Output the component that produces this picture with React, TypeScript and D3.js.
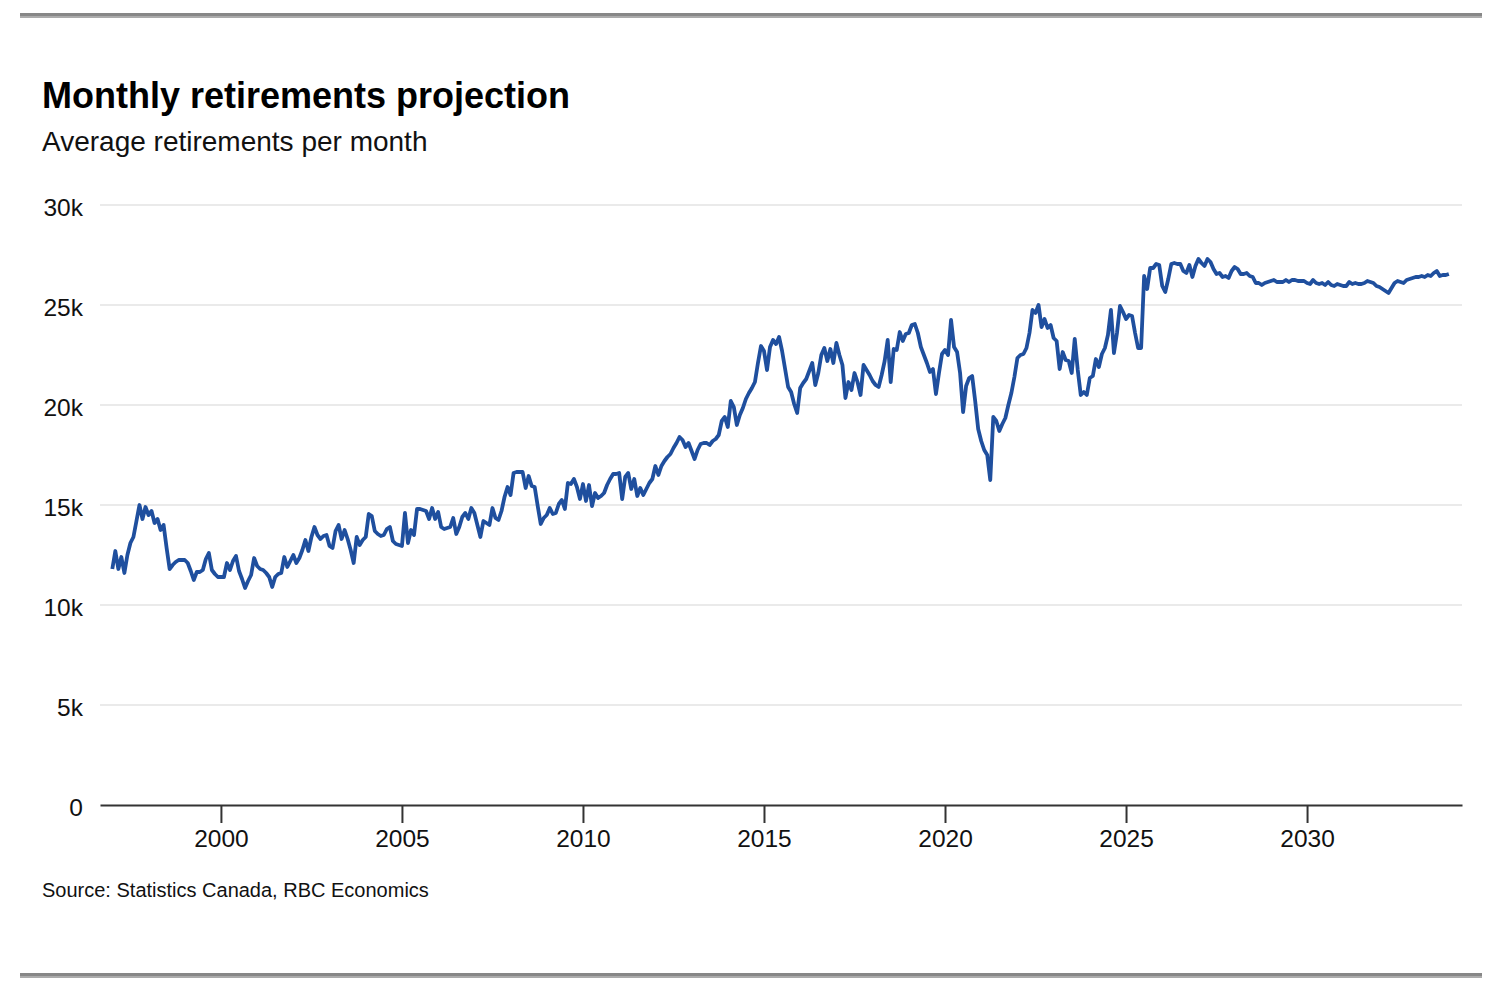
import React, { useEffect, useRef } from 'react'
import * as d3 from 'd3'

// monthly retirements, thousands, starting Jan 1997
const startYear = 1997

const retirements1997to2004 = [
    11.8, 12.7, 11.8, 12.4, 11.6, 12.5, 13.1, 13.4, 14.2, 15.0, 14.3, 14.9,
    14.5, 14.7, 14.1, 14.3, 13.75, 14.0, 12.85, 11.8, 12.0, 12.15, 12.25, 12.25,
    12.25, 12.1, 11.7, 11.25, 11.65, 11.65, 11.75, 12.3, 12.6, 11.75, 11.55, 11.4,
    11.4, 11.4, 12.1, 11.75, 12.2, 12.45, 11.7, 11.3, 10.85, 11.2, 11.5, 12.35,
    11.95, 11.8, 11.75, 11.6, 11.4, 10.9, 11.4, 11.55, 11.6, 12.4, 11.9, 12.2,
    12.5, 12.1, 12.35, 12.75, 13.25, 12.7, 13.4, 13.9, 13.5, 13.3, 13.45, 13.5,
    12.95, 12.85, 13.7, 14.0, 13.3, 13.75, 13.3, 12.75, 12.1, 13.4, 13.0, 13.25,
    13.4, 14.55, 14.45, 13.7, 13.55, 13.45, 13.5, 13.8, 13.9, 13.2, 13.05, 13.0,
]

const retirements2005to2014 = [
    12.95, 14.6, 13.1, 13.75, 13.5, 14.8, 14.8, 14.75, 14.7, 14.3, 14.85, 14.3,
    14.65, 13.9, 13.8, 13.85, 13.9, 14.35, 13.55, 13.9, 14.4, 14.6, 14.3, 14.85,
    14.6, 14.0, 13.4, 14.2, 14.1, 14.0, 14.85, 14.35, 14.25, 14.7, 15.4, 15.9,
    15.5, 16.6, 16.65, 16.65, 16.65, 15.85, 16.45, 15.95, 15.9, 14.95, 14.05, 14.35,
    14.5, 14.85, 14.55, 14.6, 15.05, 15.25, 14.8, 16.1, 16.05, 16.3, 15.9, 15.3,
    16.05, 15.2, 16.0, 14.95, 15.6, 15.35, 15.45, 15.6, 16.0, 16.3, 16.55, 16.55,
    16.6, 15.3, 16.4, 16.6, 15.8, 16.3, 15.45, 15.85, 15.5, 15.8, 16.1, 16.3,
    16.95, 16.5, 16.95, 17.2, 17.4, 17.55, 17.85, 18.1, 18.4, 18.25, 17.9, 18.1,
    17.7, 17.3, 17.75, 18.05, 18.1, 18.1, 18.0, 18.2, 18.3, 18.5, 19.2, 19.4,
    18.9, 20.2, 19.9, 19.0, 19.5, 19.85, 20.3, 20.6, 20.85, 21.15, 22.1, 22.95,
]

const retirements2015to2024 = [
    22.7, 21.75, 22.9, 23.25, 23.05, 23.4, 22.7, 21.8, 20.9, 20.65, 20.05, 19.6,
    20.85, 21.1, 21.3, 21.7, 22.1, 21.0, 21.6, 22.5, 22.85, 22.2, 22.8, 22.1,
    23.1, 22.5, 22.0, 20.35, 21.15, 20.75, 21.6, 21.15, 20.5, 22.0, 21.75, 21.5,
    21.2, 21.0, 20.9, 21.5, 22.2, 23.25, 21.15, 22.8, 22.75, 23.65, 23.2, 23.55,
    23.6, 24.0, 24.05, 23.6, 22.9, 22.5, 22.1, 21.65, 21.8, 20.55, 21.6, 22.55,
    22.75, 22.5, 24.25, 22.9, 22.65, 21.6, 19.65, 20.95, 21.35, 21.45, 20.2, 18.8,
    18.2, 17.75, 17.5, 16.25, 19.4, 19.2, 18.7, 19.05, 19.35, 20.0, 20.6, 21.4,
    22.35, 22.5, 22.55, 22.85, 23.6, 24.75, 24.6, 25.0, 23.9, 24.3, 23.85, 24.0,
    23.35, 23.2, 21.8, 22.65, 22.25, 22.2, 21.6, 23.3, 21.75, 20.5, 20.65, 20.5,
    21.35, 21.45, 22.3, 21.9, 22.55, 22.85, 23.5, 24.75, 22.6, 23.6, 24.95, 24.65,
]

const retirements2025to2033 = [
    24.3, 24.5, 24.45, 23.6, 22.85, 22.85, 26.45, 25.8, 26.85, 26.85, 27.05, 27.0,
    25.95, 25.65, 26.3, 27.05, 27.1, 27.05, 27.05, 26.7, 26.6, 27.0, 26.4, 26.95,
    27.3, 27.1, 26.95, 27.3, 27.15, 26.8, 26.55, 26.6, 26.4, 26.45, 26.35, 26.7,
    26.9, 26.8, 26.55, 26.55, 26.6, 26.45, 26.4, 26.1, 26.1, 26.0, 26.1, 26.15,
    26.2, 26.25, 26.15, 26.15, 26.15, 26.25, 26.15, 26.25, 26.25, 26.2, 26.2, 26.2,
    26.1, 26.05, 26.25, 26.1, 26.05, 26.1, 26.0, 26.15, 26.0, 25.95, 26.05, 26.0,
    25.95, 25.95, 26.15, 26.05, 26.1, 26.05, 26.05, 26.1, 26.2, 26.15, 26.1, 25.95,
    25.9, 25.8, 25.7, 25.6, 25.85, 26.1, 26.2, 26.15, 26.1, 26.25, 26.3, 26.35,
    26.4, 26.4, 26.45, 26.4, 26.5, 26.45, 26.6, 26.7, 26.45, 26.5, 26.5, 26.55,
]

const yTicks = [0, 5, 10, 15, 20, 25, 30]
const xTicks = [2000, 2005, 2010, 2015, 2020, 2025, 2030]

const title = 'Monthly retirements projection'
const subtitle = 'Average retirements per month'
const source = 'Source: Statistics Canada, RBC Economics'

const FONT = "'Liberation Sans', Arial, Helvetica, sans-serif"

const App: React.FC = () => {
    const svgRef = useRef<SVGSVGElement | null>(null)

    useEffect(() => {
        if (!svgRef.current) return
        const width = 1508
        const height = 996

        const svg = d3
            .select(svgRef.current)
            .attr('width', width)
            .attr('height', height)
            .style('font-family', FONT)
        svg.selectAll('*').remove()

        const values = [
            ...retirements1997to2004,
            ...retirements2005to2014,
            ...retirements2015to2024,
            ...retirements2025to2033,
        ]
        const data = values.map((v, i) => ({ t: startYear + i / 12, v }))

        const x = d3.scaleLinear().domain([1996.66, 2034.28]).range([100, 1462])
        const y = d3.scaleLinear().domain([0, 30]).range([805, 205])

        // top / bottom rules
        const rules = [13, 973]
        rules.forEach((ry) => {
            svg.append('rect').attr('x', 20).attr('y', ry).attr('width', 1462).attr('height', 3).attr('fill', '#878787')
            svg.append('rect').attr('x', 20).attr('y', ry + 3).attr('width', 1462).attr('height', 2).attr('fill', '#ababab')
        })

        svg.append('text')
            .attr('x', 42)
            .attr('y', 108)
            .attr('font-size', 36)
            .attr('font-weight', 'bold')
            .attr('fill', '#000')
            .text(title)

        svg.append('text')
            .attr('x', 42)
            .attr('y', 151)
            .attr('font-size', 28)
            .attr('fill', '#111')
            .text(subtitle)

        // gridlines + y labels
        const grid = svg.append('g')
        grid.selectAll('line')
            .data(yTicks.filter((d) => d > 0))
            .join('line')
            .attr('x1', 100)
            .attr('x2', 1462)
            .attr('y1', (d) => y(d))
            .attr('y2', (d) => y(d))
            .attr('stroke', '#e3e3e3')
            .attr('stroke-width', 1.5)

        grid.selectAll('text')
            .data(yTicks)
            .join('text')
            .attr('x', 83)
            .attr('y', (d) => y(d))
            .attr('dy', '0.45em')
            .attr('text-anchor', 'end')
            .attr('font-size', 24.5)
            .attr('fill', '#111')
            .text((d) => (d === 0 ? '0' : `${d}k`))

        // x axis
        const xAxis = svg
            .append('g')
            .attr('transform', `translate(0,${y(0)})`)
            .call(
                d3
                    .axisBottom(x)
                    .tickValues(xTicks)
                    .tickFormat(d3.format('d'))
                    .tickSize(18)
                    .tickSizeOuter(0)
                    .tickPadding(7)
            )
        xAxis.select('.domain').attr('stroke', '#333').attr('stroke-width', 2)
        xAxis.selectAll('.tick line').attr('stroke', '#333').attr('stroke-width', 2)
        xAxis.selectAll('.tick text')
            .attr('font-size', 24.5)
            .attr('font-family', FONT)
            .attr('fill', '#111')

        const line = d3
            .line<{ t: number; v: number }>()
            .x((d) => x(d.t))
            .y((d) => y(d.v))

        svg.append('path')
            .datum(data)
            .attr('fill', 'none')
            .attr('stroke', '#1f4f9e')
            .attr('stroke-width', 3.8)
            .attr('stroke-linejoin', 'round')
            .attr('d', line)

        svg.append('text')
            .attr('x', 42)
            .attr('y', 897)
            .attr('font-size', 20)
            .attr('fill', '#111')
            .text(source)
    }, [])

    return (
        <svg
            ref={svgRef}
            style={{ position: 'absolute', left: 0, top: 0, display: 'block', background: '#fff' }}
        />
    )
}

export default App
